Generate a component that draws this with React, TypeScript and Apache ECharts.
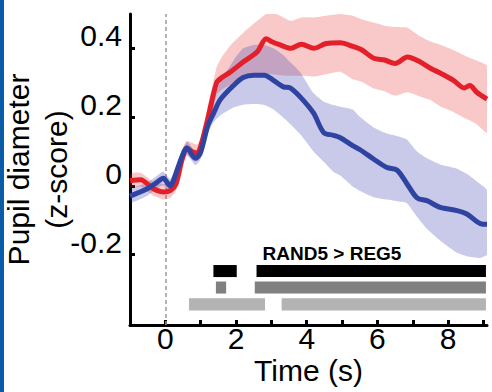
import React, { useEffect, useRef } from "react";
import * as echarts from "echarts";

// ---- data ----
const redTime = [-1.0, -0.7, -0.35, -0.05, 0.15, 0.3, 0.47, 0.61, 0.75, 0.9, 1.0, 1.2, 1.45, 1.6, 1.85, 2.2, 2.6, 2.85, 3.0, 3.25, 3.55, 3.85, 4.2, 4.55, 4.95, 5.3, 5.55, 5.9, 6.2, 6.5, 6.85, 7.2, 7.5, 7.8, 8.15, 8.45, 8.62, 8.8, 9.1];
const redMean = [0.015, 0.018, -0.008, -0.018, -0.013, 0.005, 0.075, 0.11, 0.1, 0.095, 0.115, 0.195, 0.3, 0.315, 0.332, 0.36, 0.39, 0.428, 0.42, 0.41, 0.4, 0.412, 0.4, 0.414, 0.416, 0.406, 0.396, 0.371, 0.366, 0.356, 0.375, 0.361, 0.342, 0.327, 0.307, 0.285, 0.292, 0.273, 0.252];
const redUpper = [0.035, 0.038, 0.012, 0.005, 0.008, 0.025, 0.095, 0.13, 0.125, 0.12, 0.14, 0.23, 0.345, 0.375, 0.41, 0.445, 0.48, 0.5, 0.505, 0.495, 0.48, 0.49, 0.49, 0.495, 0.5, 0.495, 0.485, 0.475, 0.466, 0.462, 0.46, 0.435, 0.42, 0.41, 0.395, 0.38, 0.372, 0.365, 0.35];
const redLower = [-0.005, -0.002, -0.028, -0.04, -0.034, -0.015, 0.055, 0.09, 0.078, 0.072, 0.09, 0.16, 0.265, 0.28, 0.295, 0.315, 0.32, 0.325, 0.325, 0.322, 0.32, 0.32, 0.318, 0.325, 0.332, 0.31, 0.303, 0.283, 0.275, 0.262, 0.272, 0.26, 0.25, 0.23, 0.215, 0.198, 0.19, 0.18, 0.155];

const blueTime = [-1.0, -0.5, -0.23, -0.06, 0.14, 0.23, 0.47, 0.61, 0.85, 0.99, 1.2, 1.36, 1.55, 1.93, 2.2, 2.5, 2.8, 3.06, 3.34, 3.53, 3.82, 4.19, 4.48, 4.76, 4.95, 5.3, 5.51, 5.89, 6.27, 6.55, 6.83, 7.12, 7.4, 7.78, 8.25, 8.53, 8.91, 9.1];
const blueMean = [-0.03, -0.008, 0.011, 0.022, 0.0, 0.016, 0.085, 0.11, 0.08, 0.095, 0.175, 0.21, 0.25, 0.292, 0.315, 0.322, 0.322, 0.307, 0.288, 0.285, 0.258, 0.212, 0.155, 0.147, 0.14, 0.117, 0.105, 0.078, 0.053, 0.046, 0.007, -0.035, -0.043, -0.063, -0.072, -0.082, -0.11, -0.112];
const blueUpper = [-0.01, 0.01, 0.03, 0.042, 0.02, 0.035, 0.105, 0.13, 0.1, 0.115, 0.2, 0.25, 0.3, 0.365, 0.4, 0.41, 0.41, 0.4, 0.38, 0.36, 0.33, 0.27, 0.245, 0.235, 0.23, 0.222, 0.2, 0.17, 0.152, 0.145, 0.135, 0.1, 0.08, 0.062, 0.05, 0.035, 0.005, -0.013];
const blueLower = [-0.05, -0.028, -0.008, 0.002, -0.02, -0.004, 0.065, 0.09, 0.06, 0.075, 0.15, 0.185, 0.205, 0.228, 0.236, 0.238, 0.235, 0.222, 0.198, 0.18, 0.15, 0.1, 0.07, 0.04, 0.03, -0.002, -0.015, -0.033, -0.04, -0.045, -0.05, -0.09, -0.125, -0.16, -0.195, -0.205, -0.21, -0.2];

// significance bars: [start, end] in seconds
const sigBlack = [[1.36, 2.02], [2.58, 9.07]];
const sigDark = [[1.43, 1.72], [2.53, 9.07]];
const sigLight = [[0.67, 2.82], [3.29, 9.07]];
const sigRowLevels = [-0.248, -0.296, -0.345];
const sigLabel = "RAND5 > REG5";

const xTickValues = [0, 1, 2, 3, 4, 5, 6, 7, 8, 9];
const xLabelValues = [0, 2, 4, 6, 8];
const yTickValues = [-0.2, 0, 0.2, 0.4];

const FONT = "'Liberation Sans', Arial, Helvetica, sans-serif";

export default function App() {
  const ref = useRef<HTMLDivElement>(null);

  useEffect(() => {
    const chart = echarts.init(ref.current as HTMLDivElement, null, { renderer: "svg" });

    const sigColors = ["#000000", "#808080", "#b3b3b3"];
    const sigData: any[] = [];
    [sigBlack, sigDark, sigLight].forEach((rows, r) => {
      rows.forEach(([s, e]) => sigData.push([s, e, sigRowLevels[r], r]));
    });

    const band = (time: number[], lo: number[], hi: number[], color: string) => ({
      type: "custom",
      silent: true,
      clip: true,
      data: time.map((t, i) => [t, lo[i], hi[i]]),
      renderItem: (params: any, api: any) => {
        if (params.dataIndex !== 0) return null;
        const top = time.map((t, i) => api.coord([t, hi[i]]));
        const bottom = time.map((t, i) => api.coord([t, lo[i]])).reverse();
        return {
          type: "polygon",
          shape: { points: top.concat(bottom), smooth: 0.15 },
          style: { fill: color },
        };
      },
    });

    const option: any = {
      animation: false,
      backgroundColor: "#ffffff",
      grid: { left: 130, right: 5, top: 14, bottom: 67, containLabel: false, outerBoundsMode: "none" },
      xAxis: {
        type: "value",
        min: -1,
        max: 9.1,
        axisLine: { onZero: false, lineStyle: { color: "#000", width: 3 } },
        axisTick: { inside: true, length: 5, customValues: xTickValues, lineStyle: { color: "#000", width: 3 } },
        axisLabel: { customValues: xLabelValues, fontSize: 30, lineHeight: 24, margin: 1, color: "#000", fontFamily: FONT },
        splitLine: { show: false },
        name: "Time (s)",
        nameLocation: "middle",
        nameGap: 31,
        nameMoveOverlap: false,
        nameTextStyle: { fontSize: 30, lineHeight: 29, color: "#000", fontFamily: FONT },
      },
      yAxis: {
        type: "value",
        min: -0.405,
        max: 0.5,
        axisLine: { onZero: false, lineStyle: { color: "#000", width: 3 } },
        axisTick: { inside: true, length: 5, customValues: yTickValues, lineStyle: { color: "#000", width: 3 } },
        axisLabel: {
          customValues: yTickValues,
          fontSize: 30,
          lineHeight: 25,
          verticalAlign: "bottom",
          margin: 8,
          color: "#000",
          fontFamily: FONT,
          formatter: (v: number) => (v === 0 ? "0" : String(Math.round(v * 10) / 10)),
        },
        splitLine: { show: false },
        name: "Pupil diameter\n(z-score)",
        nameLocation: "middle",
        nameGap: 55,
        nameMoveOverlap: false,
        nameTextStyle: { fontSize: 30, lineHeight: 38, color: "#000", fontFamily: FONT },
      },
      graphic: [
        { type: "rect", left: 0, top: 0, shape: { width: 4, height: 392 }, style: { fill: "#0b5ca8" } },
        {
          type: "text",
          x: 332,
          y: 253,
          style: {
            text: sigLabel,
            fill: "#000",
            fontSize: 19,
            fontWeight: "bold",
            fontFamily: FONT,
            align: "center",
            verticalAlign: "middle",
          },
        },
      ],
      series: [
        band(redTime, redLower, redUpper, "rgba(232,45,45,0.26)"),
        band(blueTime, blueLower, blueUpper, "rgba(45,50,170,0.26)"),
        {
          type: "line",
          data: redTime.map((t, i) => [t, redMean[i]]),
          symbol: "none",
          smooth: 0.3,
          silent: true,
          z: 3,
          lineStyle: { color: "#e3202a", width: 5 },
          markLine: {
            silent: true,
            symbol: "none",
            z: 1,
            label: { show: false },
            lineStyle: { type: [4, 3], color: "#9a9a9a", width: 1.5 },
            data: [{ xAxis: 0 }],
          },
        },
        {
          type: "line",
          data: blueTime.map((t, i) => [t, blueMean[i]]),
          symbol: "none",
          smooth: 0.3,
          silent: true,
          z: 3,
          lineStyle: { color: "#2f43a0", width: 5 },
        },
        {
          type: "custom",
          silent: true,
          data: sigData,
          renderItem: (params: any, api: any) => {
            const s = api.coord([api.value(0), api.value(2)]);
            const e = api.coord([api.value(1), api.value(2)]);
            const h = api.size([0, 0.035])[1];
            return {
              type: "rect",
              shape: { x: s[0], y: s[1] - h / 2, width: e[0] - s[0], height: h },
              style: { fill: sigColors[api.value(3)] },
            };
          },
        },
      ],
    };

    chart.setOption(option);
    return () => chart.dispose();
  }, []);

  return (
    <div
      ref={ref}
      style={{ position: "fixed", left: 0, top: 0, width: 492, height: 392, background: "#fff" }}
    />
  );
}
